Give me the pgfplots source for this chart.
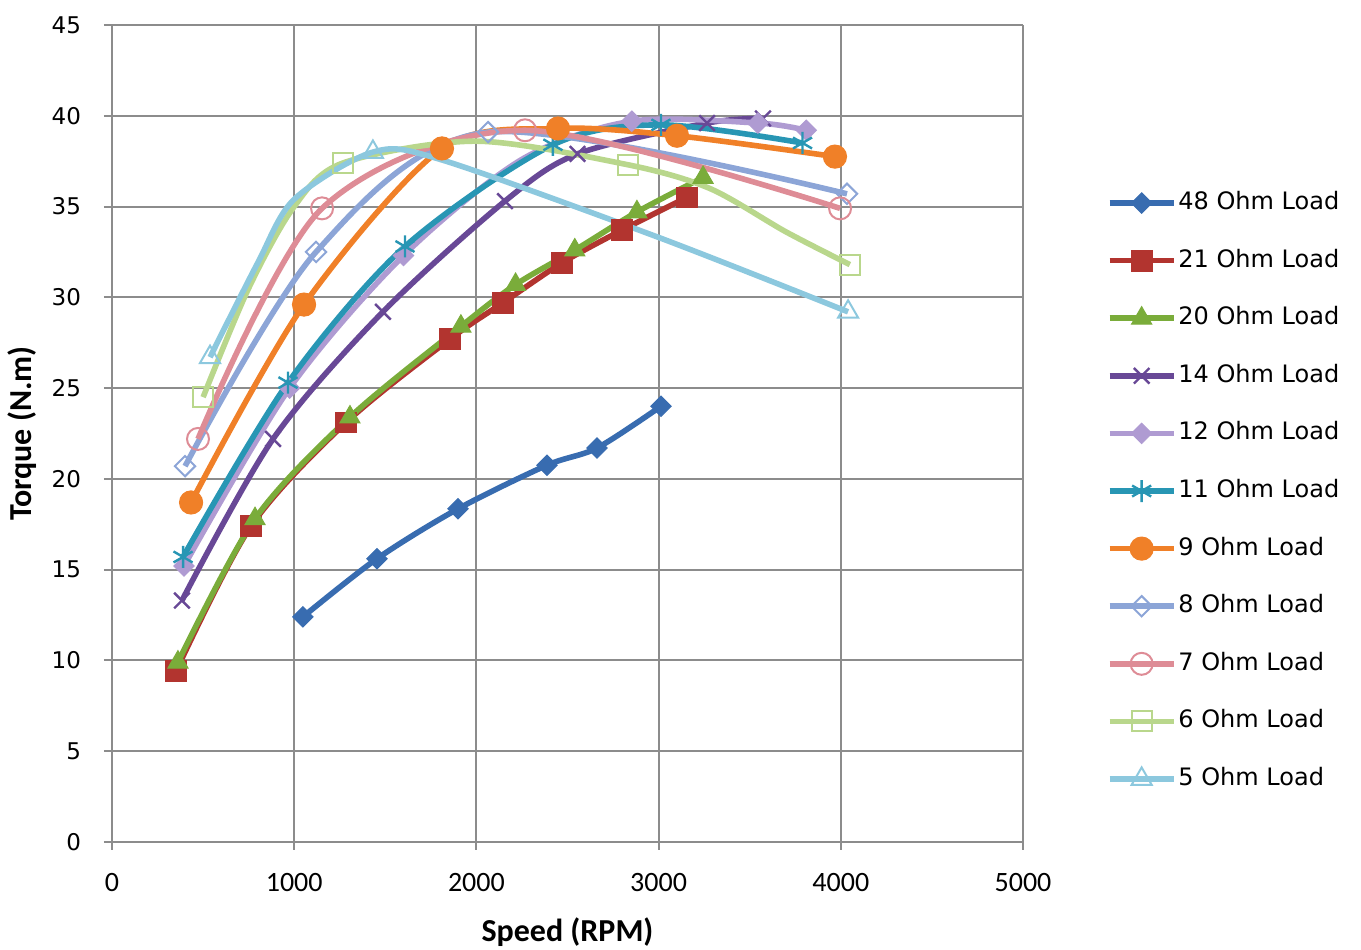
\documentclass[border=0pt]{standalone}
\usepackage{pgfplots}
\pgfplotsset{compat=1.18}
\usepackage{fontspec}
\setmainfont{DejaVu Sans}
\newfontfamily\carlito{Carlito}
\usetikzlibrary{calc}
\definecolor{c48}{RGB}{56,108,176}
\definecolor{c21}{RGB}{178,52,47}
\definecolor{c20}{RGB}{122,172,58}
\definecolor{c14}{RGB}{104,72,150}
\definecolor{c12}{RGB}{175,155,210}
\definecolor{c11}{RGB}{40,150,180}
\definecolor{c9}{RGB}{240,128,40}
\definecolor{c8}{RGB}{140,165,215}
\definecolor{c7}{RGB}{222,140,150}
\definecolor{c6}{RGB}{185,215,140}
\definecolor{c5}{RGB}{140,200,222}
\definecolor{gridc}{RGB}{140,140,140}
\begin{document}
\begin{tikzpicture}
\begin{axis}[
  scale only axis, width=455.5pt, height=408.5pt,
  xmin=0, xmax=5000, ymin=0, ymax=45,
  xtick={0,1000,...,5000}, ytick={0,5,...,45},
  grid=major, grid style={line width=1pt, color=gridc},
  axis lines*=left,
  axis line style={line width=1pt, gridc},
  tick align=outside, major tick length=4pt,
  tick style={gridc, line width=1pt},
  /pgf/number format/assume math mode=true,
  /pgf/number format/1000 sep={},
  xticklabel style={font=\carlito\fontsize{14}{14}\selectfont, yshift=-8pt},
  yticklabel style={font=\fontsize{11.5}{12}\selectfont, xshift=-8pt},
  xlabel={Speed (RPM)}, ylabel={Torque (N.m)},
  label style={font=\carlito\bfseries\fontsize{16}{16}\selectfont},
  xlabel style={at={(axis description cs:0.5,-0.110)}, anchor=center},
  ylabel style={at={(axis description cs:-0.0988,0.5)}, anchor=center},
  legend style={at={(axis description cs:1.085,0.804)}, anchor=north west,
    draw=none, fill=none, font=\fontsize{12}{14}\selectfont, row sep=15.3pt,
    nodes={inner sep=1pt, text height=9pt, text depth=2.5pt}},
  legend cell align=left,
  legend image code/.code={\draw[#1, mark repeat=1, mark phase=1, mark indices={2}] plot coordinates {(0pt,0pt) (16pt,0pt) (32pt,0pt)};},
  every axis plot/.append style={line width=2.8pt, smooth},
]
\addplot[c48, mark=square*, mark size=3.6pt, mark options={rotate=45, line width=0.5pt}] coordinates {
(1048,12.4) (1454,15.6) (1899,18.35) (2387,20.75) (2662,21.7) (3013,24.0)};
\addlegendentry{48 Ohm Load}
\addplot[c21, mark=square*, mark size=5.2pt, mark options={line width=0.5pt}] coordinates {
(351,9.4) (763,17.4) (1284,23.1) (1855,27.7) (2146,29.7) (2470,31.9) (2799,33.7) (3155,35.5)};
\addlegendentry{21 Ohm Load}
\addplot[c20, mark=triangle*, mark size=5.8pt, mark options={line width=0.5pt}] coordinates {
(362,9.9) (785,17.8) (1306,23.4) (1915,28.4) (2215,30.7) (2540,32.6) (2881,34.7) (3244,36.6)};
\addlegendentry{20 Ohm Load}
\addplot[c14, mark=x, mark size=5.5pt, mark options={line width=1.2pt}] coordinates {
(384,13.3) (884,22.2) (1487,29.2) (2157,35.3) (2555,37.9) (3266,39.6) (3573,39.85)};
\addlegendentry{14 Ohm Load}
\addplot[c12, mark=square*, mark size=3.6pt, mark options={rotate=45, line width=0.5pt}, mark indices={1,2,3,5,6,7}] coordinates {
(395,15.2) (975,25.0) (1600,32.3) (2250,37.6) (2853,39.7) (3545,39.6) (3810,39.2)};
\addlegendentry{12 Ohm Load}
\addplot[c11, mark=asterisk, mark size=5.5pt, mark options={line width=1.2pt}] coordinates {
(390,15.7) (966,25.3) (1608,32.8) (2420,38.4) (3013,39.5) (3790,38.5)};
\addlegendentry{11 Ohm Load}
\addplot[c9, mark=*, mark size=5.8pt, mark options={line width=0.5pt}] coordinates {
(434,18.7) (1054,29.6) (1811,38.2) (2448,39.3) (3101,38.9) (3968,37.75)};
\addlegendentry{9 Ohm Load}
\addplot[c8, mark=square, mark size=3.6pt, mark options={rotate=45, line width=1pt}] coordinates {
(401,20.7) (1120,32.5) (2064,39.1) (4034,35.7)};
\addlegendentry{8 Ohm Load}
\addplot[c7, mark=o, mark size=5.5pt, mark options={line width=1pt}] coordinates {
(472,22.2) (1153,34.9) (2267,39.2) (3996,34.9)};
\addlegendentry{7 Ohm Load}
\addplot[c6, mark=square, mark size=5pt, mark options={line width=1pt}, mark indices={1,4,6,9}] coordinates {
(500,24.5) (750,30.5) (1000,35.0) (1268,37.4) (2000,38.6) (2832,37.3) (3280,36.0) (3700,33.6) (4050,31.8)};
\addlegendentry{6 Ohm Load}
\addplot[c5, mark=triangle, mark size=5.8pt, mark options={line width=1pt}, mark indices={1,4,7}] coordinates {
(538,26.7) (800,31.9) (1000,35.4) (1432,38.0) (1800,37.6) (3000,33.3) (4040,29.2)};
\addlegendentry{5 Ohm Load}
\coordinate (sw) at (rel axis cs:0,0);
\coordinate (ne) at (rel axis cs:1,1);
\end{axis}
\pgfresetboundingbox
\path[use as bounding box] ($(sw)+(-56pt,-54pt)$) rectangle ($(ne)+(169pt,12.5pt)$);
\end{tikzpicture}
\end{document}
